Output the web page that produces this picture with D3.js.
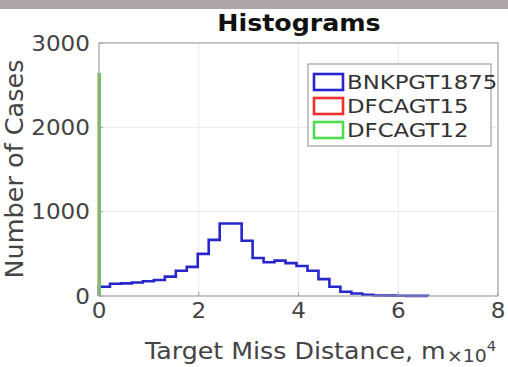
<!DOCTYPE html>
<html>
<head>
<meta charset="utf-8">
<script src="https://cdn.jsdelivr.net/npm/d3@7"></script>
<style>
  body { margin: 0; background: #fff; }
  svg { display: block; }
</style>
</head>
<body>
<div id="chart"></div>
<script>
// bin edges (metres) and counts
var blueEdges = [0, 2200, 4400, 6600, 8800, 11000, 13200, 15400, 17600, 19800,
                 22000, 24200, 26400, 28600, 30800, 33000, 35200, 37400, 39600, 41800,
                 44000, 46200, 48400, 50600, 52800, 55000, 57200, 59400, 61600, 63800, 66000];
var blueCounts = [110, 145, 150, 160, 175, 190, 230, 300, 345, 500,
                  665, 860, 860, 655, 450, 400, 420, 390, 355, 300,
                  200, 110, 50, 30, 15, 6, 4, 3, 2, 2];
var redEdges   = [0, 120];
var redCounts  = [2630];
var greenEdges = [0, 120];
var greenCounts = [2630];

var seriesNames  = ["BNKPGT1875", "DFCAGT15", "DFCAGT12"];
var seriesColors = ["#2626cc", "#ee3030", "#4fdc4f"];

var xTicks = [0, 20000, 40000, 60000, 80000];
var xTickLabels = ["0", "2", "4", "6", "8"];
var yTicks = [0, 1000, 2000, 3000];
var yTickLabels = ["0", "1000", "2000", "3000"];

var W = 508, H = 367;
var font = "'DejaVu Sans', sans-serif";

var svg = d3.select("#chart").append("svg")
    .attr("width", W)
    .attr("height", H);

// the text in the picture is a bit wider than it is tall, so stretch it sideways
function stretched(parent, px, py, sx) {
  return parent.append("text")
    .attr("transform", "translate(" + px + "," + py + ") scale(" + sx + ",1)");
}

// grey strip along the top of the screenshot
svg.append("rect")
    .attr("x", 0).attr("y", 0)
    .attr("width", W).attr("height", 9)
    .style("fill", "#aea6a6");

var x = d3.scaleLinear().domain([0, 80000]).range([99, 498]),
    y = d3.scaleLinear().domain([0, 3000]).range([296, 43]);

/* grid */
svg.selectAll(".xgrid")
  .data(xTicks.slice(1, -1))
  .enter().append("line")
    .attr("x1", x).attr("x2", x)
    .attr("y1", y(0)).attr("y2", y(3000))
    .style("stroke", "#e9e9e9")
    .style("stroke-width", 1);

svg.selectAll(".ygrid")
  .data(yTicks.slice(1, -1))
  .enter().append("line")
    .attr("x1", x(0)).attr("x2", x(80000))
    .attr("y1", y).attr("y2", y)
    .style("stroke", "#e9e9e9")
    .style("stroke-width", 1);

/* histogram outlines (stairs) */
function stairs(edges, counts) {
  var pts = [[edges[0], 0]];
  counts.forEach(function(c, i) {
    pts.push([edges[i], c]);
    pts.push([edges[i+1], c]);
  });
  pts.push([edges[edges.length-1], 0]);
  return d3.line()
    .x(function(d) { return x(d[0]); })
    .y(function(d) { return y(d[1]); })(pts);
}

var hists = [[blueEdges, blueCounts], [redEdges, redCounts], [greenEdges, greenCounts]];

svg.selectAll(".hist")
  .data(hists)
  .enter().append("path")
    .attr("class", "hist")
    .attr("d", function(d) { return stairs(d[0], d[1]); })
    .style("fill", "none")
    .style("stroke", function(d, i) { return seriesColors[i]; })
    .style("stroke-width", 2.6)
    .style("stroke-linejoin", "miter");

/* axes box */
svg.append("rect")
    .attr("x", x(0)).attr("y", y(3000))
    .attr("width", x(80000) - x(0))
    .attr("height", y(0) - y(3000))
    .style("fill", "none")
    .style("stroke", "#a0a0a0")
    .style("stroke-width", 1.2);

// tick marks, inside the box
svg.selectAll(".xtick")
  .data(xTicks)
  .enter().append("line")
    .attr("x1", x).attr("x2", x)
    .attr("y1", y(0)).attr("y2", y(0) - 4)
    .style("stroke", "#a0a0a0");

svg.selectAll(".ytick")
  .data(yTicks)
  .enter().append("line")
    .attr("x1", x(0)).attr("x2", x(0) + 4)
    .attr("y1", y).attr("y2", y)
    .style("stroke", "#a0a0a0");

/* tick labels */
xTicks.forEach(function(t, i) {
  stretched(svg, x(t), y(0) + 22, 1.1)
    .attr("text-anchor", "middle")
    .style("font", "21px " + font)
    .style("fill", "#444")
    .text(xTickLabels[i]);
});

yTicks.forEach(function(t, i) {
  stretched(svg, x(0) - 9, y(t), 1.1)
    .attr("dy", "0.36em")
    .attr("text-anchor", "end")
    .style("font", "21px " + font)
    .style("fill", "#444")
    .text(yTickLabels[i]);
});

/* title and axis labels */
stretched(svg, 299, 31, 1.1)
    .attr("text-anchor", "middle")
    .style("font", "bold 23px " + font)
    .style("fill", "#111")
    .text("Histograms");

stretched(svg, 145, 359, 1.1)
    .style("font", "23px " + font)
    .style("fill", "#444")
    .text("Target Miss Distance, m");

var expo = stretched(svg, 447, 362, 1.05)
    .style("font", "18px " + font)
    .style("fill", "#444");
expo.append("tspan").text("\u00d710");
expo.append("tspan").attr("dy", -11).style("font-size", "14px").text("4");

svg.append("text")
    .attr("transform", "translate(23,169) rotate(-90)")
    .attr("text-anchor", "middle")
    .style("font", "25.5px " + font)
    .style("fill", "#444")
    .text("Number of Cases");

/* legend */
var legend = svg.append("g").attr("transform", "translate(308,64)");

legend.append("rect")
    .attr("width", 183).attr("height", 82)
    .style("fill", "#fff")
    .style("stroke", "#a0a0a0")
    .style("stroke-width", 1.2);

seriesNames.forEach(function(name, i) {
  var row = legend.append("g")
      .attr("transform", "translate(0," + (18 + i * 24) + ")");

  row.append("rect")
      .attr("x", 6).attr("y", -8)
      .attr("width", 29).attr("height", 16)
      .style("fill", "#fff")
      .style("stroke", seriesColors[i])
      .style("stroke-width", 2.6);

  stretched(row, 39, 0, 1.14)
      .attr("dy", "0.36em")
      .style("font", "20px " + font)
      .style("fill", "#333")
      .text(name);
});
</script>
</body>
</html>
